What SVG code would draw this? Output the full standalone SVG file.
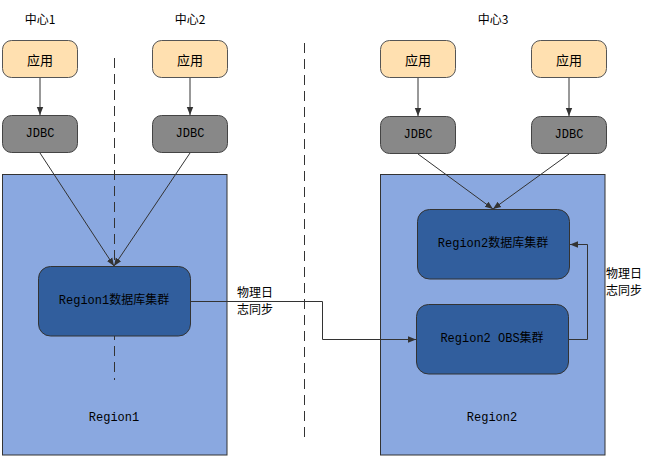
<svg xmlns="http://www.w3.org/2000/svg" width="655" height="456" viewBox="0 0 655 456">
<defs>
<marker id="arr" viewBox="0 0 10 10" refX="10" refY="5" markerWidth="8" markerHeight="8" orient="auto" markerUnits="userSpaceOnUse"><path d="M0,1 L10,5 L0,9 Z" fill="#333"/></marker>
<style>
.app{fill:#FFE0B0;stroke:#555;stroke-width:1}
.jdbc{fill:#888;stroke:#444;stroke-width:1}
.region{fill:#8AA8E0;stroke:#333;stroke-width:1}
.cluster{fill:#315E9D;stroke:#333;stroke-width:1}
.mono{font-family:"Liberation Mono","Noto Sans CJK SC",monospace;font-size:12px;fill:#000;text-anchor:middle;dominant-baseline:central}
.sans{font-family:"Noto Sans CJK SC","Noto Sans",sans-serif;font-size:12px;fill:#000}
.cjk{font-family:"Noto Sans CJK SC",sans-serif;font-size:13px;fill:#000;text-anchor:middle;dominant-baseline:central}
.conn{fill:none;stroke:#333;stroke-width:1}
.dash{fill:none;stroke:#333;stroke-width:1;stroke-dasharray:10 6}
</style>
</defs>
<rect width="655" height="456" fill="#fff"/>
<g id="region1"><rect class="region" x="2.5" y="174.5" width="224.5" height="280.5"/><text class="mono" x="114" y="418">Region1</text></g>
<g id="region2"><rect class="region" x="380.5" y="174.5" width="224.5" height="280.5"/><text class="mono" x="492" y="418">Region2</text></g>
<g id="dividers">
<line class="dash" x1="114.5" y1="58" x2="114.5" y2="380"/>
<line class="dash" x1="304.5" y1="43" x2="304.5" y2="437"/>
</g>
<g id="labels">
<text class="sans" x="40" y="24" text-anchor="middle">中心1</text>
<text class="sans" x="190" y="24" text-anchor="middle">中心2</text>
<text class="sans" x="493" y="24" text-anchor="middle">中心3</text>
<text class="sans" x="237" y="297">物理日</text>
<text class="sans" x="237" y="314">志同步</text>
<text class="sans" x="606" y="278">物理日</text>
<text class="sans" x="606" y="295">志同步</text>
</g>
<g id="app1"><rect class="app" x="2.5" y="40.5" width="75" height="37" rx="9"/><text class="cjk" x="40" y="59">应用</text></g>
<g id="app2"><rect class="app" x="152.5" y="40.5" width="75" height="37" rx="9"/><text class="cjk" x="190" y="59">应用</text></g>
<g id="app3"><rect class="app" x="380.5" y="40.5" width="75" height="37" rx="9"/><text class="cjk" x="418" y="59">应用</text></g>
<g id="app4"><rect class="app" x="531.5" y="40.5" width="75" height="37" rx="9"/><text class="cjk" x="569" y="59">应用</text></g>
<g id="jdbc1"><rect class="jdbc" x="2.5" y="115.5" width="75" height="37" rx="9"/><text class="mono" x="40" y="134">JDBC</text></g>
<g id="jdbc2"><rect class="jdbc" x="152.5" y="115.5" width="75" height="37" rx="9"/><text class="mono" x="190" y="134">JDBC</text></g>
<g id="jdbc3"><rect class="jdbc" x="380.5" y="116.5" width="75" height="37" rx="9"/><text class="mono" x="418" y="135">JDBC</text></g>
<g id="jdbc4"><rect class="jdbc" x="531.5" y="116.5" width="75" height="37" rx="9"/><text class="mono" x="569" y="135">JDBC</text></g>
<g id="cluster1"><rect class="cluster" x="38.5" y="266.5" width="152" height="69.5" rx="12"/><text class="mono" x="114" y="301">Region1数据库集群</text></g>
<g id="cluster2"><rect class="cluster" x="417.5" y="209.5" width="152" height="69.5" rx="12"/><text class="mono" x="493" y="244">Region2数据库集群</text></g>
<g id="cluster3"><rect class="cluster" x="416.5" y="304.5" width="152" height="69.5" rx="12"/><text class="mono" x="492" y="339">Region2 OBS集群</text></g>
<g id="connectors">
<line class="conn" x1="40" y1="78" x2="40" y2="115" marker-end="url(#arr)"/>
<line class="conn" x1="190" y1="78" x2="190" y2="115" marker-end="url(#arr)"/>
<line class="conn" x1="418" y1="78" x2="418" y2="116" marker-end="url(#arr)"/>
<line class="conn" x1="569" y1="78" x2="569" y2="116" marker-end="url(#arr)"/>
<line class="conn" x1="40" y1="153" x2="114" y2="266" marker-end="url(#arr)"/>
<line class="conn" x1="190" y1="153" x2="114" y2="266" marker-end="url(#arr)"/>
<line class="conn" x1="418" y1="154" x2="493" y2="209" marker-end="url(#arr)"/>
<line class="conn" x1="569" y1="154" x2="493" y2="209" marker-end="url(#arr)"/>
<polyline class="conn" points="190.5,301.5 322.5,301.5 322.5,339.5 416,339.5" marker-end="url(#arr)"/>
<polyline class="conn" points="568.5,339.5 587.5,339.5 587.5,244.5 570,244.5" marker-end="url(#arr)"/>
</g>
</svg>
